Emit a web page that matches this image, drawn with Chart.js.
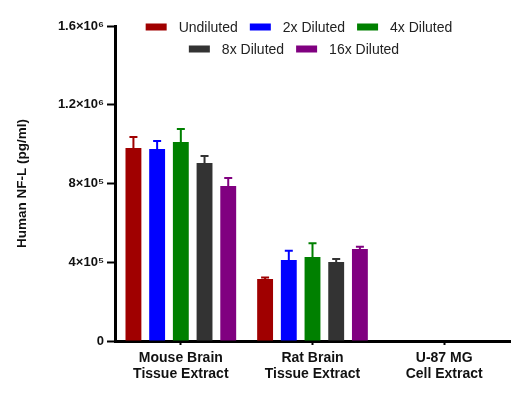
<!DOCTYPE html>
<html>
<head>
<meta charset="utf-8">
<script src="https://cdn.jsdelivr.net/npm/chart.js@4"></script>
<style>
  html, body { margin: 0; padding: 0; background: #fff; }
  #wrap { width: 520px; height: 397px; position: relative; }
</style>
</head>
<body>
<div id="wrap"><canvas id="myChart"></canvas></div>
<script>
const categories = [
  ['Mouse Brain', 'Tissue Extract'],
  ['Rat Brain', 'Tissue Extract'],
  ['U-87 MG', 'Cell Extract'],
];

const seriesNames = ['Undiluted', '2x Diluted', '4x Diluted', '8x Diluted', '16x Diluted'];
const seriesColors = ['#a00000', '#0000ff', '#008000', '#333333', '#800080'];

// mean values (pg/ml)
const undiluted = [980000, 315000, 0];
const diluted2x = [975000, 411000, 0];
const diluted4x = [1011000, 427000, 0];
const diluted8x = [904000, 401000, 0];
const diluted16x = [787000, 467000, 0];

// upper error (SD)
const undilutedErr = [56000, 7000, 0];
const diluted2xErr = [41000, 48000, 0];
const diluted4xErr = [66000, 69000, 0];
const diluted8xErr = [36000, 16000, 0];
const diluted16xErr = [41000, 12000, 0];

const yTicks = [0, 400000, 800000, 1200000, 1600000];
const yTickLabels = ['0', '4×10⁵', '8×10⁵', '1.2×10⁶', '1.6×10⁶'];

const values = [undiluted, diluted2x, diluted4x, diluted8x, diluted16x];
const errors = [undilutedErr, diluted2xErr, diluted4xErr, diluted8xErr, diluted16xErr];

const FONT = 'Arial, "Liberation Sans", sans-serif';

const errorBars = {
  id: 'errorBars',
  afterDatasetsDraw(chart) {
    const ctx = chart.ctx;
    const y = chart.scales.y;
    ctx.save();
    chart.data.datasets.forEach((ds, i) => {
      const meta = chart.getDatasetMeta(i);
      meta.data.forEach((bar, j) => {
        const v = ds.data[j];
        const e = ds.errs[j];
        if (!v) return;
        const top = y.getPixelForValue(v + e);
        ctx.strokeStyle = ds.backgroundColor;
        ctx.lineWidth = 2;
        ctx.beginPath();
        ctx.moveTo(bar.x, bar.y);
        ctx.lineTo(bar.x, top);
        ctx.moveTo(bar.x - 4, top);
        ctx.lineTo(bar.x + 4, top);
        ctx.stroke();
      });
    });
    ctx.restore();
  }
};

const legendRows = {
  id: 'legendRows',
  afterDraw(chart) {
    const ctx = chart.ctx;
    const rows = [[0, 1, 2], [3, 4]];
    const rowY = [27, 49];
    const rowCenter = [299, 294];
    ctx.save();
    ctx.font = '14px ' + FONT;
    ctx.textBaseline = 'middle';
    rows.forEach((row, r) => {
      let total = 0;
      row.forEach((k, n) => {
        total += 21 + 12 + ctx.measureText(seriesNames[k]).width + (n ? 12 : 0);
      });
      let x = rowCenter[r] - total / 2;
      row.forEach(k => {
        ctx.fillStyle = seriesColors[k];
        ctx.fillRect(x, rowY[r] - 3.5, 21, 7);
        x += 33;
        ctx.fillStyle = '#222';
        ctx.fillText(seriesNames[k], x, rowY[r] + 1);
        x += ctx.measureText(seriesNames[k]).width + 12;
      });
    });
    ctx.restore();
  }
};

const data = {
  labels: categories,
  datasets: seriesNames.map((name, i) => ({
    label: name,
    data: values[i],
    errs: errors[i],
    backgroundColor: seriesColors[i],
    borderWidth: 0,
    categoryPercentage: 0.9,
    barPercentage: 0.67,
  }))
};

const config = {
  type: 'bar',
  data: data,
  options: {
    responsive: false,
    animation: false,
    layout: { padding: { top: 26, right: 10, left: 0, bottom: 0 } },
    plugins: {
      legend: { display: false },
      tooltip: { enabled: false }
    },
    scales: {
      x: {
        afterFit(scale) { scale.height = 56; },
        border: { color: '#000', width: 3 },
        grid: { display: true, drawOnChartArea: false, offset: false, tickLength: 4, tickWidth: 2, tickColor: '#000' },
        ticks: { color: '#111', padding: 5, font: { family: FONT, size: 14, weight: 'bold', lineHeight: 1.15 } }
      },
      y: {
        min: 0,
        max: 1600000,
        afterFit(scale) { scale.width = 115; },
        afterBuildTicks(scale) { scale.ticks = yTicks.map(v => ({ value: v })); },
        border: { color: '#000', width: 3 },
        grid: { display: true, drawOnChartArea: false, tickLength: 8, tickWidth: 2, tickColor: '#000' },
        ticks: {
          color: '#111',
          padding: 3,
          font: { family: FONT, size: 13, weight: 'bold' },
          callback: (v) => yTickLabels[yTicks.indexOf(v)]
        },
        title: {
          display: true,
          text: 'Human NF-L (pg/ml)',
          color: '#111',
          padding: { top: 14, bottom: 0 },
          font: { family: FONT, size: 13.5, weight: 'bold' }
        }
      }
    }
  },
  plugins: [errorBars, legendRows]
};

const canvas = document.getElementById('myChart');
canvas.width = 520;
canvas.height = 397;
const myChart = new Chart(canvas, config);
</script>
</body>
</html>
